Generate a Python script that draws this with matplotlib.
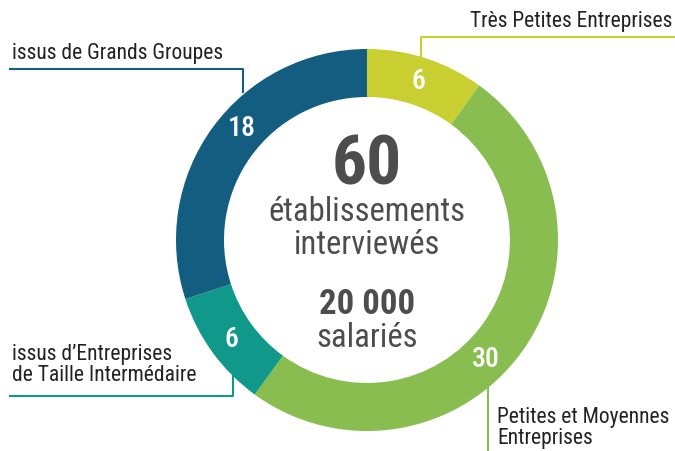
import matplotlib
matplotlib.use("Agg")
import matplotlib.pyplot as plt
import numpy as np
from matplotlib import font_manager

names = {f.name for f in font_manager.fontManager.ttflist}
cond = [n for n in ["Liberation Sans Narrow", "Roboto Condensed", "Open Sans Condensed"] if n in names]
plt.rcParams['font.family'] = cond + ['DejaVu Sans'] if cond else ['DejaVu Sans']

categories = ["Très Petites Entreprises", "Petites et Moyennes\nEntreprises",
              "issus d\u2019Entreprises\nde Taille Intermédaire", "issus de Grands Groupes"]
values = [6, 30, 6, 18]
colors = ["#C9CF31", "#89BD4F", "#10998A", "#135E80"]
label_angles = [72, -45, 216, 138]  # angles of the number labels (deg)

W, H = 675, 452
fig = plt.figure(figsize=(W / 100, H / 100), dpi=100)
ax = fig.add_axes([0, 0, 1, 1])
cx, cy, R, ring = 367, H - 241, 191, 48
ax.pie(values, colors=colors, startangle=90, counterclock=False, radius=R,
       center=(cx, cy), wedgeprops=dict(width=ring, linewidth=0))
ax.set_xlim(0, W)
ax.set_ylim(0, H)
ax.set_aspect('equal')
ax.axis('off')

rm = R - ring / 2 + 1
for v, a in zip(values, label_angles):
    t = np.deg2rad(a)
    ax.text(cx + rm * np.cos(t), cy + rm * np.sin(t), str(v), color="white",
            fontsize=20, fontweight="medium", ha="center", va="center")

gray = "#4D4D4D"
total = sum(values)
ax.text(cx, H - 166, str(total), fontsize=50, fontweight="bold", color=gray, ha="center", va="center")
ax.text(cx, H - 212, "établissements", fontsize=23.5, color=gray, ha="center", va="center")
ax.text(cx, H - 245, "interviewés", fontsize=23.5, color=gray, ha="center", va="center")
ax.text(cx, H - 305, "20 000", fontsize=25, fontweight="bold", color=gray, ha="center", va="center")
ax.text(cx, H - 338, "salariés", fontsize=23.5, color=gray, ha="center", va="center")

lab_fs = 15.5
txt = "#222222"
# Très Petites Entreprises
ax.plot([421, 421, W], [H - 57, H - 38, H - 38], color=colors[0], lw=1.5)
ax.text(672, H - 22, categories[0], fontsize=lab_fs, color=txt, ha="right", va="center")
# Grands Groupes
ax.plot([10, 243, 243], [H - 70, H - 70, H - 93], color=colors[3], lw=1.5)
ax.text(12, H - 53, categories[3], fontsize=lab_fs, color=txt, ha="left", va="center")
# ETI
ax.plot([10, 233, 233], [H - 397, H - 397, H - 370], color=colors[2], lw=1.5)
ax.text(12, H - 365, categories[2], fontsize=lab_fs, color=txt, ha="left", va="center", linespacing=0.95)
# PME
ax.plot([488, 488], [H - 388, 0], color=colors[1], lw=1.5)
ax.text(497, H - 428, categories[1], fontsize=lab_fs, color=txt, ha="left", va="center", linespacing=0.95)

fig.savefig("out.png", dpi=100)
